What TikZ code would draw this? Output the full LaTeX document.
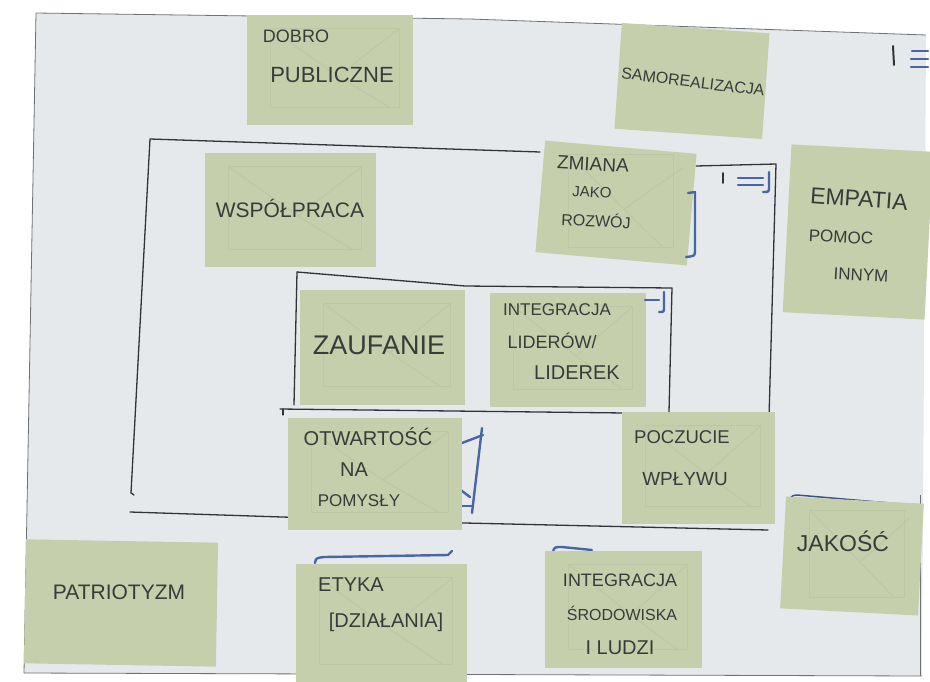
\documentclass[tikz,border=0pt]{standalone}
\usepackage{fontspec}
\setmainfont{Liberation Sans}
\usetikzlibrary{calc}
\definecolor{paper}{RGB}{230,233,236}
\definecolor{notegreen}{RGB}{198,207,172}
\definecolor{envline}{RGB}{189,199,165}
\definecolor{ink}{RGB}{48,52,56}
\definecolor{handink}{RGB}{55,60,57}
\definecolor{penblue}{RGB}{72,102,165}
\newcommand{\fs}[1]{\fontsize{#1}{#1}\selectfont}
\begin{document}
\begin{tikzpicture}[x=1pt,y=-1pt,
  note/.style={fill=notegreen,draw=none,inner sep=0pt},
  hand/.style={text=handink,inner sep=0pt},
  frame/.style={draw=ink,line width=1.3pt,line join=round,line cap=round},
  edge/.style={draw=ink!70,line width=0.8pt},
  blue/.style={draw=penblue,line width=2.4pt,line cap=round,line join=round},
  env/.style={draw=envline,line width=1pt}]
\useasboundingbox (0,0) rectangle (930,681);
\fill[white] (0,0) rectangle (930,681);
% paper sheet
\fill[paper] (36,13) -- (470,19) -- (926,35) -- (922,676) -- (24,673) -- cycle;
\draw[edge] (36,13) -- (24,673);
\draw[edge] (36,13) -- (470,19) -- (926,35);
\draw[edge] (24,673) -- (922,676);
\draw[edge] (920,495) -- (920,676);

% middle frame
\draw[frame] (540,152) -- (150,139) -- (131,493) -- (134,495);
\draw[frame] (696,166) -- (776,164) -- (769,418);
\draw[frame] (130,512) -- (465,523) -- (768,530);
% inner frame
\draw[frame] (297,272) -- (465,286) -- (672,288) -- (669,412);
\draw[frame] (297,272) -- (294,405);
\draw[frame] (280,409) -- (625,413);
\draw[frame] (283,409) -- (283,415);

% blue marks behind notes
\draw[blue] (462,443) -- (483,435);
\draw[blue] (482,428) -- (472,513);
\draw[blue] (458,488) -- (470,497);
\draw[blue] (460,506) -- (472,506);
\draw[blue] (315,563) .. controls (316,558) .. (324,557) -- (448,555) -- (452,551);
\draw[blue] (553,553) .. controls (554,547) .. (562,547) -- (592,550);
\draw[penblue!80!black,line width=1.5pt,line cap=round] (790,508) .. controls (790,496) .. (797,495) -- (913,505);

% sticky notes
\node[note,minimum width=166pt,minimum height=110pt] (dobro) at (330,70) {};
\node[note,minimum width=148pt,minimum height=106pt,rotate=-4] (samo) at (692,81) {};
\node[note,minimum width=171pt,minimum height=114pt] (wspol) at (290,210) {};
\node[note,minimum width=152pt,minimum height=112pt,rotate=-5] (zmiana) at (616,203) {};
\node[note,minimum width=142pt,minimum height=168pt,rotate=-3] (empatia) at (858,232) {};
\node[note,minimum width=165pt,minimum height=115pt] (zaufanie) at (382,347) {};
\node[note,minimum width=156pt,minimum height=114pt] (intlid) at (568,350) {};
\node[note,minimum width=174pt,minimum height=112pt] (otwart) at (375,474) {};
\node[note,minimum width=153pt,minimum height=112pt] (poczucie) at (698,468) {};
\node[note,minimum width=138pt,minimum height=112pt,rotate=-3] (jakosc) at (852,556) {};
\node[note,minimum width=192pt,minimum height=124pt,rotate=-1] (patrio) at (121,603) {};
\node[note,minimum width=171pt,minimum height=118pt] (etyka) at (381,623) {};
\node[note,minimum width=157pt,minimum height=117pt] (intsrod) at (623,609) {};

% faint show-through envelopes
\foreach \n in {dobro,wspol,zmiana,zaufanie,intlid,otwart,poczucie,jakosc,etyka,intsrod}{
  \draw[env] ($(\n.north west)+(24,14)$) rectangle ($(\n.south east)+(-14,-18)$);
  \draw[env] ($(\n.north west)+(24,14)$) -- ($(\n.center)+(8,6)$) -- ($(\n.north east)+(-14,14)$);
  \draw[env] ($(\n.center)+(8,6)$) -- ($(\n.south east)+(-24,-18)$);
}

% blue marks on top
\draw[blue] (688,193) -- (695,192) -- (695,250) .. controls (695,256) .. (686,257);
\draw[blue] (645,300) -- (659,300);
\draw[blue] (664,292) -- (664,307) .. controls (664,312) .. (659,312);
\draw[blue] (738,178) -- (763,178);
\draw[blue] (738,185) -- (763,185);
\draw[blue] (769,172) -- (769,187) .. controls (769,192) .. (763,192);
\draw[ink,line width=1.6pt,line cap=round] (723,173) -- (723,183);
\draw[ink,line width=2pt,line cap=round] (893,46) -- (894,65);
\draw[blue] (912,51) -- (928,51);
\draw[blue] (911,59) -- (928,59);
\draw[blue] (911,67) -- (928,67);

% texts
\node[hand,font=\fs{18}] (t1a) at (296,36) {DOBRO};
\node[hand,font=\fs{22}] (t1b) at (332,75) {PUBLICZNE};
\node[hand,font=\fs{16},rotate=-7] (t2) at (693,82) {SAMOREALIZACJA};
\node[hand,font=\fs{21}] (t3) at (290,208) {WSPÓŁPRACA};
\node[hand,font=\fs{19},rotate=-3] (t4a) at (593,164) {ZMIANA};
\node[hand,font=\fs{15},rotate=-3] (t4b) at (592,192) {JAKO};
\node[hand,font=\fs{16},rotate=-3] (t4c) at (596,220) {ROZWÓJ};
\node[hand,font=\fs{23},rotate=-4] (t5a) at (859,199) {EMPATIA};
\node[hand,font=\fs{17},rotate=-3] (t5b) at (841,237) {POMOC};
\node[hand,font=\fs{17},rotate=-3] (t5c) at (861,275) {INNYM};
\node[hand,font=\fs{27}] (t6) at (379,345) {ZAUFANIE};
\node[hand,font=\fs{17}] (t7a) at (557,310) {INTEGRACJA};
\node[hand,font=\fs{18}] (t7b) at (552,341) {LIDERÓW/};
\node[hand,font=\fs{20}] (t7c) at (577,373) {LIDEREK};
\node[hand,font=\fs{20}] (t8a) at (368,437) {OTWARTOŚĆ};
\node[hand,font=\fs{20}] (t8b) at (354,470) {NA};
\node[hand,font=\fs{17}] (t8c) at (359,501) {POMYSŁY};
\node[hand,font=\fs{18.5}] (t9a) at (682,437) {POCZUCIE};
\node[hand,font=\fs{19}] (t9b) at (685,479) {WPŁYWU};
\node[hand,font=\fs{23}] (t10) at (843,541) {JAKOŚĆ};
\node[hand,font=\fs{21}] (t11) at (119,592) {PATRIOTYZM};
\node[hand,font=\fs{20}] (t12a) at (351,585) {ETYKA};
\node[hand,font=\fs{20}] (t12b) at (386,622) {[DZIAŁANIA]};
\node[hand,font=\fs{18}] (t13a) at (620,580) {INTEGRACJA};
\node[hand,font=\fs{16}] (t13b) at (622,613) {ŚRODOWISKA};
\node[hand,font=\fs{20}] (t13c) at (620,648) {I LUDZI};
\end{tikzpicture}
\end{document}
